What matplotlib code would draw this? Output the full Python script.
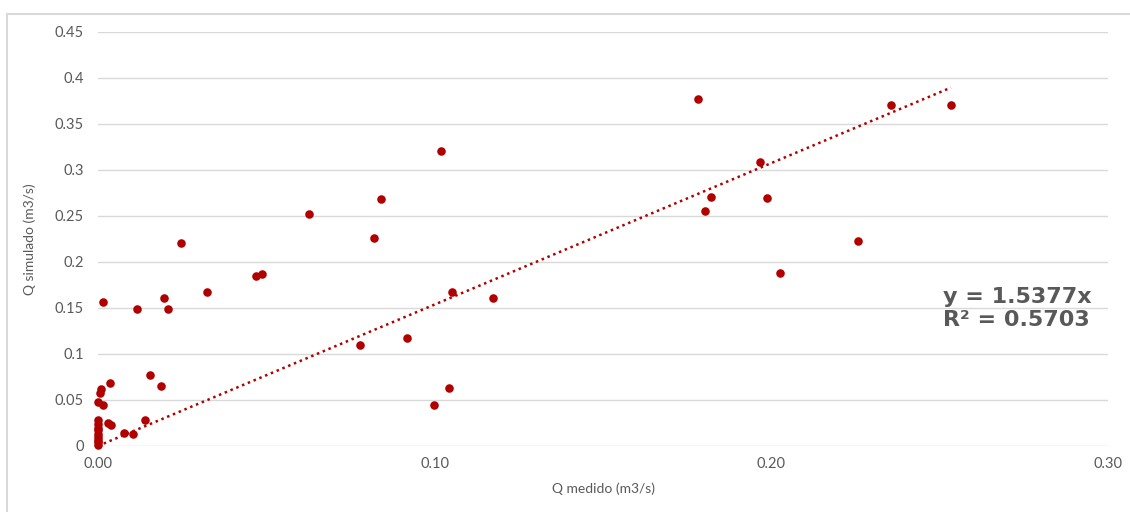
import matplotlib.pyplot as plt
import matplotlib
from matplotlib.patches import Rectangle
import numpy as np

matplotlib.rcParams["font.family"] = ["Lato", "DejaVu Sans"]

# caudal medido vs simulado (m3/s)
q_medido = [
    0.0, 0.0, 0.0, 0.0, 0.0, 0.0, 0.0, 0.0, 0.0,
    0.0, 0.0006, 0.001, 0.0016,
    0.0036, 0.0154, 0.0187,
    0.003, 0.004, 0.0077, 0.0104, 0.014,
    0.0015, 0.0115, 0.0196, 0.0207, 0.0246, 0.0324, 0.047, 0.0487,
    0.0628, 0.082, 0.084, 0.0778, 0.0918, 0.0998, 0.1042, 0.1019,
    0.105, 0.1173, 0.1782, 0.1803, 0.182, 0.1966, 0.1987, 0.2026,
    0.2257, 0.2355, 0.2533,
]
q_simulado = [
    0.001, 0.004, 0.007, 0.010, 0.013, 0.017, 0.020, 0.024, 0.028,
    0.048, 0.058, 0.062, 0.045,
    0.0685, 0.077, 0.065,
    0.025, 0.023, 0.014, 0.013, 0.028,
    0.157, 0.149, 0.161, 0.149, 0.221, 0.167, 0.185, 0.187,
    0.252, 0.226, 0.268, 0.110, 0.117, 0.045, 0.063, 0.321,
    0.167, 0.161, 0.377, 0.255, 0.271, 0.309, 0.270, 0.188,
    0.223, 0.371, 0.371,
]

SLOPE = 1.5377
R2 = 0.5703

x_ticks = [0.0, 0.1, 0.2, 0.3]
x_ticklabels = ["0.00", "0.10", "0.20", "0.30"]
y_ticks = [0, 0.05, 0.1, 0.15, 0.2, 0.25, 0.3, 0.35, 0.4, 0.45]
y_ticklabels = ["0", "0.05", "0.1", "0.15", "0.2", "0.25", "0.3", "0.35", "0.4", "0.45"]

RED = "#B00000"
GREY = "#595959"

fig = plt.figure(figsize=(11.3, 5.12), dpi=100)
ax = fig.add_axes([0.0867, 0.129, 0.894, 0.8086])

# marco del gráfico
fig.patches.append(Rectangle((7 / 1130, -0.1), 1.2, 1 - 14 / 512 + 0.1,
                             transform=fig.transFigure, fill=False,
                             edgecolor="#D9D9D9", linewidth=1.5))

ax.scatter(q_medido, q_simulado, s=38, color=RED, zorder=3, linewidths=0,
           clip_on=False)

# línea de tendencia por el origen
xt = np.array([0, max(q_medido)])
ax.plot(xt, SLOPE * xt, linestyle=(0, (1, 1.5)), color=RED, linewidth=1.8, zorder=2)

ax.set_xlim(0, 0.3)
ax.set_ylim(0, 0.45)
ax.set_xticks(x_ticks)
ax.set_xticklabels(x_ticklabels)
ax.set_yticks(y_ticks)
ax.set_yticklabels(y_ticklabels)
ax.tick_params(length=0, labelsize=10.5, labelcolor=GREY, pad=10)
ax.tick_params(axis="x", pad=8)
ax.grid(axis="y", color="#D9D9D9", linewidth=1)
ax.set_axisbelow(True)
for s in ax.spines.values():
    s.set_visible(False)

ax.set_xlabel("Q medido (m3/s)", fontsize=10, color=GREY, labelpad=8)
ax.set_ylabel("Q simulado (m3/s)", fontsize=10, color=GREY, labelpad=14)

ax.text(0.251, 0.149, f"y = {SLOPE}x\nR² = {R2}", fontsize=16, fontweight="bold",
        family="DejaVu Sans", color=GREY, va="center", ha="left", linespacing=1.2)

plt.savefig("out.png", dpi=100)
plt.close()
